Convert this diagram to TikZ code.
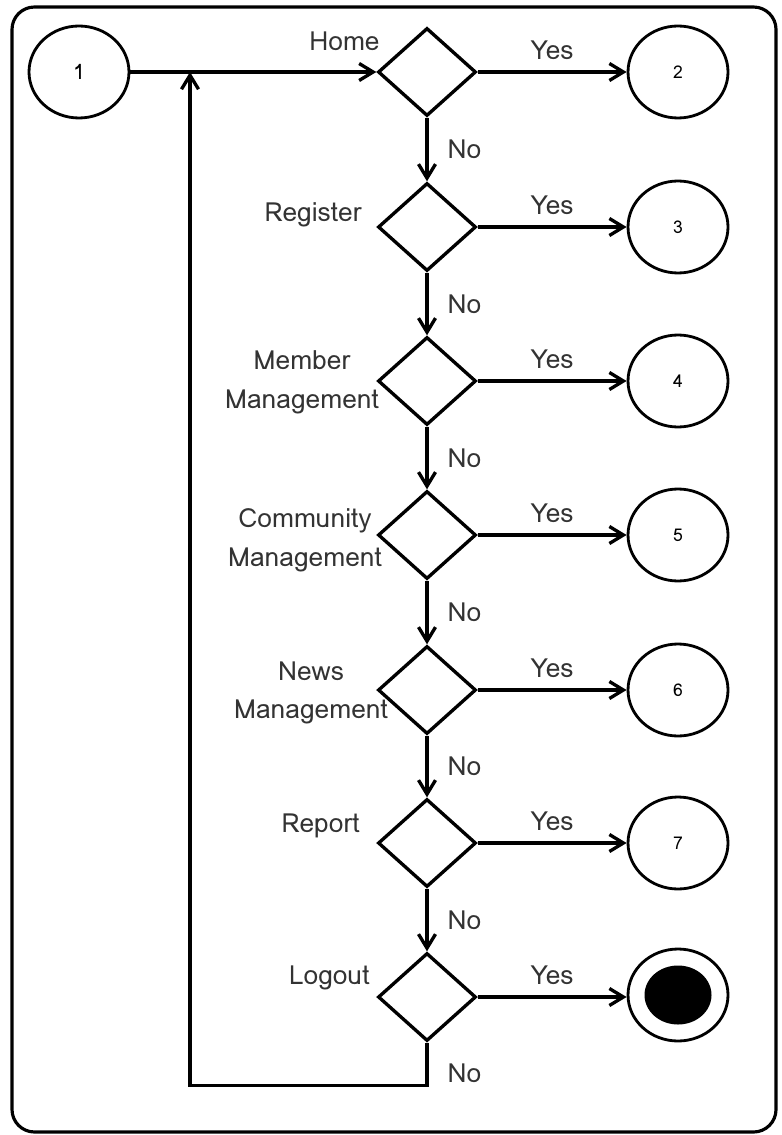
\documentclass[tikz,border=0pt]{standalone}
\usepackage{fontspec}
\setmainfont{Loma}
\usetikzlibrary{arrows.meta}
\usetikzlibrary{shapes.geometric}

\tikzset{
  decision/.style={diamond, draw, line width=1.9pt, inner sep=0pt, minimum width=1.96cm, minimum height=1.76cm},
  state/.style={ellipse, draw, line width=1.6pt, inner sep=0pt, minimum width=2cm, minimum height=1.84cm},
  flow/.style={line width=1.9pt, -{Straight Barb[length=2.8mm, width=3.4mm]}},
  lbl/.style={font=\fontsize{15}{22}\selectfont, text=black!80, align=center, inner sep=0pt},
}

\begin{document}
\begin{tikzpicture}
    \useasboundingbox (0,0) rectangle (15.62,-22.7);
    \draw[line width=1.8pt, rounded corners=0.45cm] (0.24,-0.14) rectangle (15.52,-22.64);

    \node[state, font=\fontsize{12}{14}\selectfont] (c1) at (1.58,-1.44) {1};

    \node[decision] (home) at (8.54,-1.44) {};
    \node[decision] (register) at (8.54,-4.54) {};
    \node[decision] (member) at (8.54,-7.62) {};
    \node[decision] (community) at (8.54,-10.7) {};
    \node[decision] (news) at (8.54,-13.8) {};
    \node[decision] (report) at (8.54,-16.86) {};
    \node[decision] (logout) at (8.54,-19.94) {};

    \node[state, font=\fontsize{10}{12}\selectfont] (c2) at (13.56,-1.44) {2};
    \node[state, font=\fontsize{10}{12}\selectfont] (c3) at (13.56,-4.54) {3};
    \node[state, font=\fontsize{10}{12}\selectfont] (c4) at (13.56,-7.62) {4};
    \node[state, font=\fontsize{10}{12}\selectfont] (c5) at (13.56,-10.7) {5};
    \node[state, font=\fontsize{10}{12}\selectfont] (c6) at (13.56,-13.8) {6};
    \node[state, font=\fontsize{10}{12}\selectfont] (c7) at (13.56,-16.86) {7};
    \node[state] (cend) at (13.56,-19.9) {};
    \node[ellipse, fill=black, inner sep=0pt, minimum width=1.34cm, minimum height=1.18cm] (cdot) at (cend) {};

    \node[lbl, anchor=east] (lhome) at (7.6,-0.82) {Home};
    \node[lbl, anchor=east] (lregister) at (7.24,-4.3) {Register};
    \node[lbl] (lmember) at (6.04,-7.64) {Member\\Management};
    \node[lbl] (lcommunity) at (6.1,-10.8) {Community\\Management};
    \node[lbl] (lnews) at (6.22,-13.86) {News\\Management};
    \node[lbl, anchor=east] (lreport) at (7.2,-16.52) {Report};
    \node[lbl, anchor=east] (llogout) at (7.4,-19.56) {Logout};

    \coordinate (merge) at (3.8,-1.44);

    \draw[flow] (c1) -- (home);
    \draw[flow] (home) -- node[lbl, above=0.22cm] {Yes} (c2);
    \draw[flow] (register) -- node[lbl, above=0.22cm] {Yes} (c3);
    \draw[flow] (member) -- node[lbl, above=0.22cm] {Yes} (c4);
    \draw[flow] (community) -- node[lbl, above=0.22cm] {Yes} (c5);
    \draw[flow] (news) -- node[lbl, above=0.22cm] {Yes} (c6);
    \draw[flow] (report) -- node[lbl, above=0.22cm] {Yes} (c7);
    \draw[flow] (logout) -- node[lbl, above=0.22cm] {Yes} (logout -| cend.west);

    \draw[flow] (home) -- node[lbl, right=0.38cm] {No} (register);
    \draw[flow] (register) -- node[lbl, right=0.38cm] {No} (member);
    \draw[flow] (member) -- node[lbl, right=0.38cm] {No} (community);
    \draw[flow] (community) -- node[lbl, right=0.38cm] {No} (news);
    \draw[flow] (news) -- node[lbl, right=0.38cm] {No} (report);
    \draw[flow] (report) -- node[lbl, right=0.38cm] {No} (logout);

    \draw[flow] (logout.south) -- node[lbl, right=0.38cm, pos=0.7] {No} ++(0,-0.86) -| (merge);
\end{tikzpicture}
\end{document}
